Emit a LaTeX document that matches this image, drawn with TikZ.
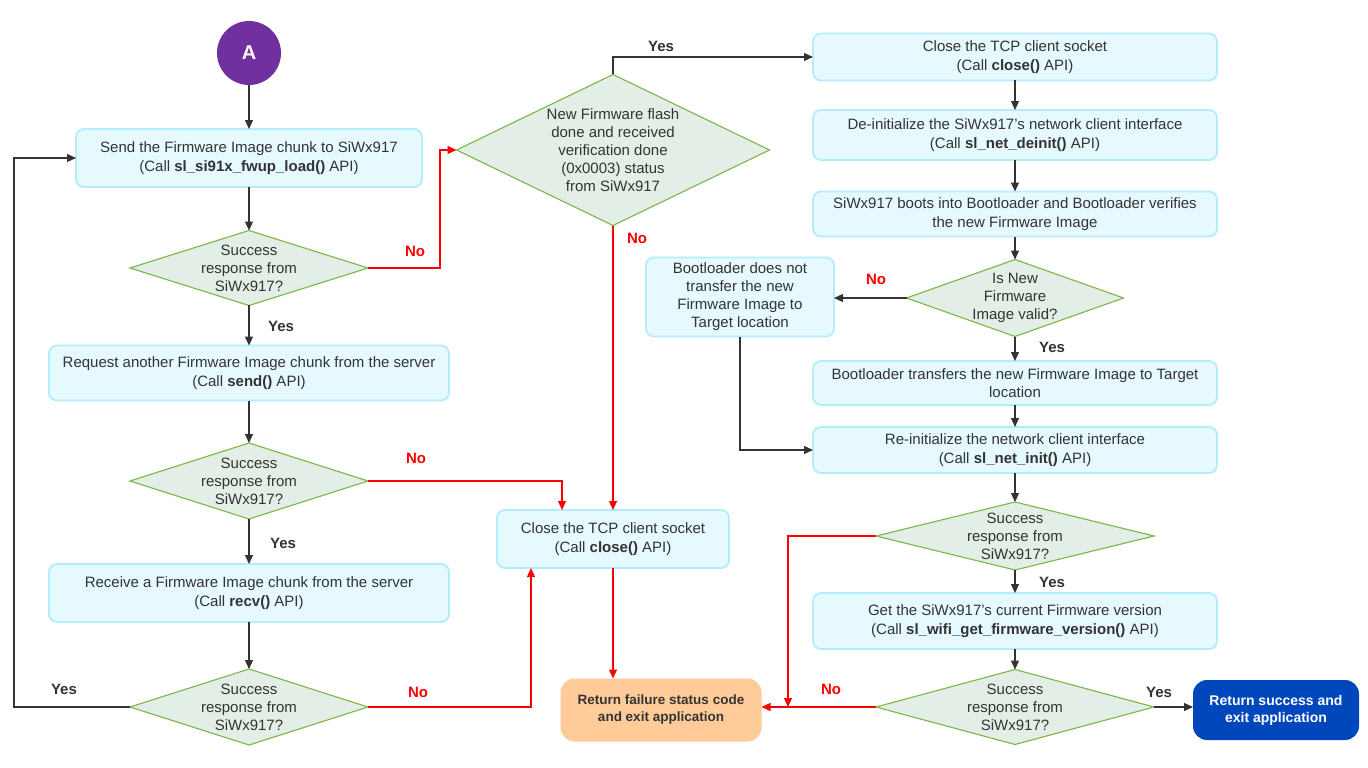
\documentclass[tikz,border=0pt]{standalone}
\usepackage{fontspec}
\setmainfont{Liberation Sans}
\usetikzlibrary{shapes.geometric,arrows.meta}
\definecolor{txt}{HTML}{333333}
\definecolor{boxfill}{HTML}{E6F9FE}
\definecolor{boxline}{HTML}{B3ECFB}
\definecolor{diafill}{HTML}{E3EFE6}
\definecolor{dialine}{HTML}{7AB648}
\definecolor{redl}{HTML}{FF0000}
\definecolor{grayl}{HTML}{333333}
\definecolor{failfill}{HTML}{FFCC99}
\definecolor{succfill}{HTML}{0047BB}
\definecolor{purp}{HTML}{7030A0}
\begin{document}
\begin{tikzpicture}[x=1pt,y=-1pt,
  font=\fontsize{15}{18.5}\selectfont, text=txt,
  proc/.style={draw=boxline, line width=1.8pt, fill=boxfill, rounded corners=8pt, align=center, inner sep=0pt, outer sep=0pt, execute at begin node={\rule{0pt}{16pt}}},
  dia/.style={diamond, draw=dialine, line width=1.1pt, fill=diafill, inner sep=0pt, outer sep=0pt},
  diat/.style={align=center, inner sep=0pt, font=\fontsize{15}{18}\selectfont},
  conn/.style={draw=grayl, line width=1.1pt, -{Triangle[length=9pt,width=8pt]}},
  noconn/.style={draw=redl, line width=1.1pt, -{Triangle[length=9pt,width=8pt]}},
  yeslab/.style={font=\bfseries\fontsize{15}{18}\selectfont, text=txt, inner sep=0pt},
  nolab/.style={font=\bfseries\fontsize{15}{18}\selectfont, text=redl, inner sep=0pt},
  term/.style={rounded corners=14pt, align=center, inner sep=0pt, outer sep=0pt, font=\bfseries\fontsize{13.5}{17}\selectfont}
]
\useasboundingbox[fill=white] (0,0) rectangle (1368,768);

% ---------- left column ----------
\node[circle, fill=purp, minimum size=64pt, inner sep=0pt, text=white, font=\bfseries\fontsize{20}{20}\selectfont] (a) at (249,53) {A};
\node[proc, minimum width=346pt, minimum height=58pt] (b1) at (249,158) {Send the Firmware Image chunk to SiWx917\\(Call \textbf{sl\_si91x\_fwup\_load()} API)};
\node[dia, minimum width=238pt, minimum height=75pt] (d1) at (249,268) {};
\node[diat] (d1t) at (d1) {Success\\response from\\SiWx917?};
\node[proc, minimum width=400pt, minimum height=55pt] (b2) at (249,373) {Request another Firmware Image chunk from the server\\(Call \textbf{send()} API)};
\node[dia, minimum width=238pt, minimum height=76pt] (d2) at (249,481) {};
\node[diat] (d2t) at (d2) {Success\\response from\\SiWx917?};
\node[proc, minimum width=400pt, minimum height=58pt] (b3) at (249,593) {Receive a Firmware Image chunk from the server\\(Call \textbf{recv()} API)};
\node[dia, minimum width=238pt, minimum height=76pt] (d3) at (249,707) {};
\node[diat] (d3t) at (d3) {Success\\response from\\SiWx917?};

% ---------- middle column ----------
\node[dia, minimum width=313pt, minimum height=151pt] (d4) at (613,150) {};
\node[diat] (d4t) at (d4) {New Firmware flash\\done and received\\verification done\\(0x0003) status\\from SiWx917};
\node[proc, minimum width=232pt, minimum height=58pt] (c1) at (613,539) {Close the TCP client socket\\(Call \textbf{close()} API)};
\node[term, fill=failfill, text=txt, minimum width=201pt, minimum height=63pt] (fail) at (661,710) {Return failure status code\\and exit application};

% ---------- right column ----------
\node[proc, minimum width=404pt, minimum height=47pt] (r1) at (1015,57) {Close the TCP client socket\\(Call \textbf{close()} API)};
\node[proc, minimum width=404pt, minimum height=50pt] (r2) at (1015,135) {De-initialize the SiWx917’s network client interface\\(Call \textbf{sl\_net\_deinit()} API)};
\node[proc, minimum width=404pt, minimum height=45pt] (r3) at (1015,214) {SiWx917 boots into Bootloader and Bootloader verifies\\the new Firmware Image};
\node[dia, minimum width=217pt, minimum height=77pt] (d5) at (1015,298) {};
\node[diat] (d5t) at (d5) {Is New\\Firmware\\Image valid?};
\node[proc, minimum width=188pt, minimum height=79pt, font=\fontsize{15}{18}\selectfont] (bl) at (740,297) {Bootloader does not\\transfer the new\\Firmware Image to\\Target location};
\node[proc, minimum width=404pt, minimum height=44pt] (r4) at (1015,383) {Bootloader transfers the new Firmware Image to Target\\location};
\node[proc, minimum width=404pt, minimum height=46pt] (r5) at (1015,450) {Re-initialize the network client interface\\(Call \textbf{sl\_net\_init()} API)};
\node[dia, minimum width=278pt, minimum height=68pt] (d6) at (1015,536) {};
\node[diat] (d6t) at (d6) {Success\\response from\\SiWx917?};
\node[proc, minimum width=404pt, minimum height=56pt] (r6) at (1015,621) {Get the SiWx917’s current Firmware version\\(Call \textbf{sl\_wifi\_get\_firmware\_version()} API)};
\node[dia, minimum width=278pt, minimum height=75pt] (d7) at (1015,707) {};
\node[diat] (d7t) at (d7) {Success\\response from\\SiWx917?};
\node[term, fill=succfill, text=white, minimum width=166pt, minimum height=60pt, font=\bfseries\fontsize{14}{17}\selectfont] (succ) at (1276,710) {Return success and\\exit application};
\coordinate (j) at (788,707);

% ---------- connectors ----------
\draw[conn] (a) -- (b1);
\draw[conn] (b1) -- (d1);
\draw[conn] (d1) -- (b2);
\draw[conn] (b2) -- (d2);
\draw[conn] (d2) -- (b3);
\draw[conn] (b3) -- (d3);
\draw[conn] (d3.west) -- ++(-116,0) |- (b1.west);
\draw[noconn] (d1.east) -- ++(72,0) |- (d4.west);
\draw[noconn] (d2.east) -| ([xshift=-51pt]c1.north);
\draw[noconn] (d3.east) -| ([xshift=-82pt]c1.south);
\draw[noconn] (d4.south) -- (c1.north);
\draw[noconn] (c1.south) -- (c1.south |- fail.north);
\draw[conn] (d4.north) |- (r1.west);
\draw[conn] (r1) -- (r2);
\draw[conn] (r2) -- (r3);
\draw[conn] (r3) -- (d5);
\draw[conn] (d5.west) -- (d5.west -| bl.east);
\draw[conn] (d5) -- (r4);
\draw[conn] (bl.south) |- (r5.west);
\draw[conn] (r4) -- (r5);
\draw[conn] (r5) -- (d6);
\draw[conn] (d6) -- (r6);
\draw[conn] (r6) -- (d7);
\draw[noconn] (d6.west) -| (j);
\draw[noconn] (d7.west) -- (d7.west -| fail.east);
\draw[conn] (d7.east) -- (d7.east -| succ.west);

% ---------- labels ----------
\node[nolab] (l1) at (415,251) {No};
\node[yeslab] (l2) at (281,326) {Yes};
\node[nolab] (l3) at (416,458) {No};
\node[yeslab] (l4) at (283,543) {Yes};
\node[yeslab] (l5) at (64,689) {Yes};
\node[nolab] (l6) at (418,692) {No};
\node[yeslab] (l7) at (661,46) {Yes};
\node[nolab] (l8) at (637,238) {No};
\node[nolab] (l9) at (876,279) {No};
\node[yeslab] (l10) at (1052,347) {Yes};
\node[yeslab] (l11) at (1052,582) {Yes};
\node[nolab] (l12) at (831,689) {No};
\node[yeslab] (l13) at (1159,692) {Yes};
\end{tikzpicture}
\end{document}
